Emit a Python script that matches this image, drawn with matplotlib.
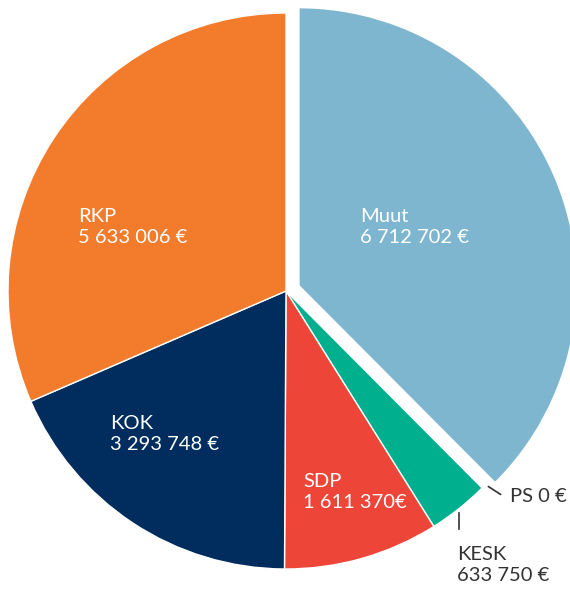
import matplotlib.pyplot as plt

# party funding
parties = ['Muut', 'PS', 'KESK', 'SDP', 'KOK', 'RKP']
amounts = [6712702, 0, 633750, 1611370, 3293748, 5633006]
labels = ['Muut\n6 712 702 €', 'PS 0 €', 'KESK\n633 750 €', 'SDP\n1 611 370€',
          'KOK\n3 293 748 €', 'RKP\n5 633 006 €']
colors = ['#7EB6D0', '#7E7E7E', '#00AF8E', '#EE4539', '#002D5D', '#F37B2C']

W, H = 570, 591
R = 278
# explode is in data units here (pixels), not in radius units
explode = [14, 0, 0, 0, 0, 0]

fig = plt.figure(figsize=(W / 100, H / 100), dpi=100)
ax = fig.add_axes([0, 0, 1, 1])

cx, cy = 286, H - 291
ax.pie(amounts, colors=colors, explode=explode, startangle=90, counterclock=False,
       radius=R, center=(cx, cy),
       wedgeprops={'edgecolor': 'white', 'linewidth': 1})
ax.set_xlim(0, W)
ax.set_ylim(0, H)
ax.axis('off')

font = 'Lato'
fs = 14.5
inside = {'Muut': (360, 227), 'RKP': (78, 227), 'KOK': (110, 434), 'SDP': (303, 492)}
for name, lab in zip(parties, labels):
    if name in inside:
        x, y = inside[name]
        ax.text(x, H - y, lab, color='white', fontsize=fs, family=font,
                ha='left', va='center', linespacing=1.35)

# outside labels with leader lines
ax.annotate('', xy=(486, H - 485), xytext=(503, H - 496),
            arrowprops=dict(arrowstyle='-', color='#333333', lw=1.2))
ax.text(510, H - 496, labels[1], color='#333333', fontsize=fs, family=font,
        ha='left', va='center')
ax.annotate('', xy=(459, H - 510), xytext=(459, H - 532),
            arrowprops=dict(arrowstyle='-', color='#333333', lw=1.2))
ax.text(457, H - 565, labels[2], color='#333333', fontsize=fs, family=font,
        ha='left', va='center', linespacing=1.35)

plt.savefig('out.png', dpi=100)
